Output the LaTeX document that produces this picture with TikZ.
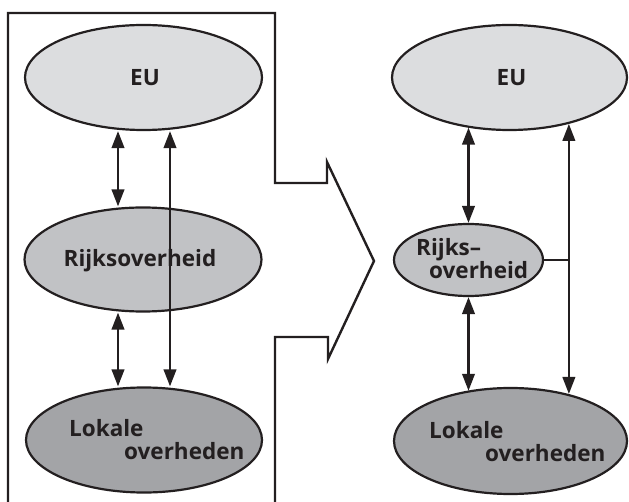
\documentclass[tikz,border=0pt]{standalone}
\usepackage{fontspec}
\setmainfont{Open Sans}
\usetikzlibrary{shapes.geometric,arrows.meta}
\definecolor{ink}{HTML}{231F20}
\definecolor{euf}{HTML}{DCDDDF}
\definecolor{rkf}{HTML}{C1C2C5}
\definecolor{lof}{HTML}{A3A4A7}
\tikzset{
  body/.style={ellipse, draw=ink, line width=2.2pt, inner sep=0pt},
  lbl/.style={font=\fontsize{22.5}{26}\selectfont\bfseries, text=ink, inner sep=0pt, anchor=base west},
  link/.style={draw=ink, line width=2.4pt, {Triangle[length=17pt,width=12.5pt]}-{Triangle[length=17pt,width=12.5pt]}},
  plain/.style={draw=ink, line width=2.4pt},
  frame/.style={draw=ink, line width=2.4pt},
}
\begin{document}
\begin{tikzpicture}[x=1pt,y=-1pt]
\useasboundingbox (0,0) rectangle (629,502);

% open arrow-shaped frame around the present situation
\draw[frame] (8,502) -- (8,13) -- (275,13) -- (275,183) -- (327,183) -- (327,162)
  -- (374,261) -- (328,359) -- (328,337) -- (275,337) -- (275,502);

% left: three levels
\node[body, fill=euf, minimum width=237pt, minimum height=105pt] (eu1) at (143.5,77.5) {};
\node[body, fill=rkf, minimum width=237pt, minimum height=104pt] (rk1) at (143,259.5) {};
\node[body, fill=lof, minimum width=236pt, minimum height=105pt] (lo1) at (144,440) {};

% right: three levels
\node[body, fill=euf, minimum width=235pt, minimum height=105pt] (eu2) at (509.5,77.5) {};
\node[body, fill=rkf, minimum width=149pt, minimum height=72pt] (rk2) at (468.5,260) {};
\node[body, fill=lof, minimum width=233pt, minimum height=106pt] (lo2) at (510.5,441) {};

% labels
\node[lbl, anchor=center] (teu1) at (145,77.5) {EU};
\node[lbl, anchor=base] (trk1) at (140,267) {Rijksoverheid};
\node[lbl] (tlo1a) at (69,436) {Lokale};
\node[lbl] (tlo1b) at (124,459) {overheden};

\node[lbl, anchor=center] (teu2) at (511.5,77.5) {EU};
\node[lbl] (trk2a) at (416,256) {Rijks–};
\node[lbl] (trk2b) at (429,279) {overheid};
\node[lbl] (tlo2a) at (429,438) {Lokale};
\node[lbl] (tlo2b) at (485,461) {overheden};

% left connectors
\coordinate (ca) at (118,0);
\coordinate (cb) at (170,0);
\draw[link] (eu1.south -| ca) -- (rk1.north -| ca);
\draw[link] (rk1.south -| ca) -- (lo1.north -| ca);
\draw[link] (eu1.south -| cb) -- (lo1.north -| cb);

% right connectors
\draw[link] (rk2.north |- eu2.-130) -- (rk2.north);
\draw[link] (rk2.south) -- (rk2.south |- lo2.131);
\draw[link] (eu2.-38.5) -- (eu2.-38.5 |- lo2.39.3);
\draw[plain] (rk2.east) -- (rk2.east -| eu2.-38.5);
\end{tikzpicture}
\end{document}
